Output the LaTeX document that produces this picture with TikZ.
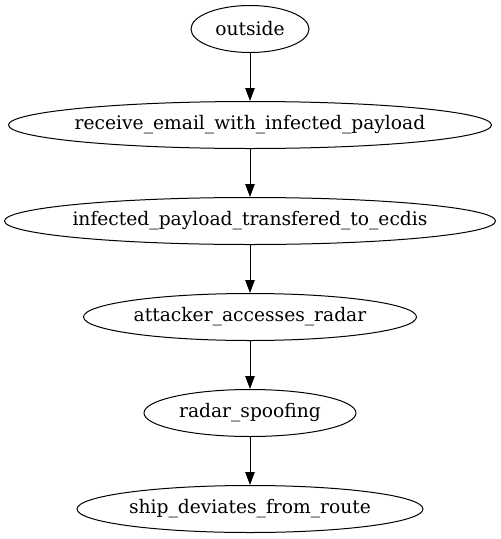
\documentclass[tikz,border=0pt]{standalone}
\usepackage{fontspec}
\setmainfont{DejaVu Serif}
\usetikzlibrary{arrows.meta,positioning,shapes.geometric}

\begin{document}
\begin{tikzpicture}[x=1pt, y=-1pt, line width=1pt,
        event/.style={ellipse, draw, inner sep=0pt, minimum height=47pt},
        every label/.style={font=\fontsize{18.67}{22}\selectfont, inner sep=0pt},
        flow/.style={-{Triangle[length=13pt,width=9.5pt]}}]
    \useasboundingbox (0,0) rectangle (501,539);
    \node [event, minimum width=118pt, label=center:outside] (outside) at (250,29) {};
    \node [event, minimum width=483pt, label=center:receive\_email\_with\_infected\_payload] (email) at (250,125) {};
    \node [event, minimum width=491pt, label=center:infected\_payload\_transfered\_to\_ecdis] (ecdis) at (250,221) {};
    \node [event, minimum width=333pt, label=center:attacker\_accesses\_radar] (radar) at (250,317) {};
    \node [event, minimum width=212pt, label=center:radar\_spoofing] (spoof) at (250,413) {};
    \node [event, minimum width=346pt, label=center:ship\_deviates\_from\_route] (ship) at (250,509) {};
    \draw [flow] (outside) -- (email);
    \draw [flow] (email) -- (ecdis);
    \draw [flow] (ecdis) -- (radar);
    \draw [flow] (radar) -- (spoof);
    \draw [flow] (spoof) -- (ship);
\end{tikzpicture}
\end{document}
